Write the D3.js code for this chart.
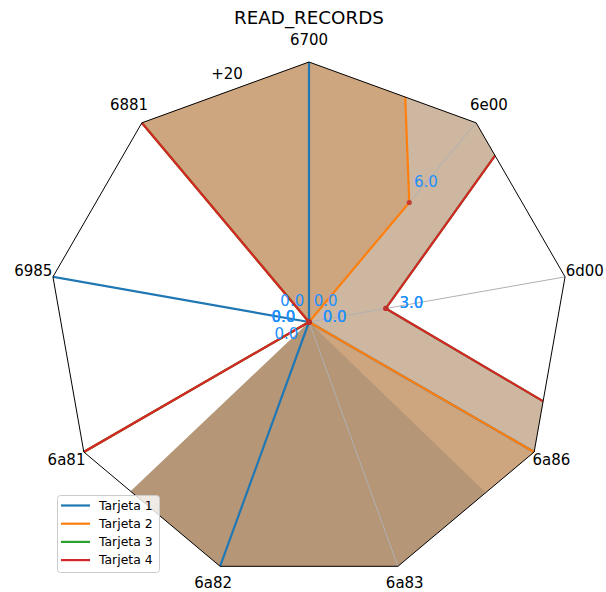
<!DOCTYPE html>
<html>
<head>
<meta charset="utf-8">
<script src="https://cdn.jsdelivr.net/npm/d3@7"></script>
<style>
  html, body { margin: 0; padding: 0; background: #fff; }
  svg { display: block; font-family: "DejaVu Sans", sans-serif; }
</style>
</head>
<body>
<svg id="chart" width="606" height="592"></svg>
<script>
// ---------- data ----------
const axisLabels = ["6700", "6e00", "6d00", "6a86", "6a83", "6a82", "6a81", "6985", "6881"];
const seriesNames = ["Tarjeta 1", "Tarjeta 2", "Tarjeta 3", "Tarjeta 4"];
const seriesColors = ["#1f77b4", "#ff7f0e", "#2ca02c", "#d62728"];
// values per axis (off-scale values run past the frame and are clipped)
const tarjeta1 = [200, 0, 0, 200, 200, 200, 0, 200, 0];
const tarjeta2 = [105, 6, 0, 200, 200, 200, 200, 0, 200];
const tarjeta3 = [200, 27, 3, 200, 200, 200, 200, 0, 200];
const tarjeta4 = [200, 27, 3, 200, 200, 200, 200, 0, 200];
// shaded areas as they appear in the picture: [angle in degrees, value]
const fill1 = [[0, 0], [134, 200], [160, 200], [200, 200], [226.5, 200]];
const fill2 = [[0, 0], [320, 200], [0, 105], [40, 6], [80, 0], [120, 200], [160, 200], [200, 200], [226.5, 200]];
const fill3 = [[0, 0], [320, 200], [0, 200], [40, 27], [80, 3], [120, 200], [160, 200], [200, 200], [226.5, 200]];
const fill4 = [[0, 0], [320, 200], [0, 200], [40, 27], [80, 3], [120, 200], [160, 200], [200, 200], [226.5, 200]];
const radialMax = 10;
const offsetText = "+20";
const title = "READ_RECORDS";

// ---------- layout ----------
const svg = d3.select("#chart");
const cx = 309, cy = 322, R = 260;
const n = axisLabels.length;
const rScale = d3.scaleLinear().domain([0, radialMax]).range([0, R]);
const angleScale = d3.scaleLinear().domain([0, n]).range([0, 2 * Math.PI]);
const toRad = d => d * Math.PI / 180;

const series = [tarjeta1, tarjeta2, tarjeta3, tarjeta4];
const fills = [fill1, fill2, fill3, fill4];

const framePts = axisLabels.map((_, i) => [angleScale(i), R]);
const radialLine = d3.lineRadial().curve(d3.curveLinearClosed);

svg.append("defs").append("clipPath").attr("id", "frameClip")
  .append("path")
  .attr("transform", `translate(${cx},${cy})`)
  .attr("d", radialLine(framePts));

const layer = (clip) => {
  const outer = svg.append("g");
  if (clip) outer.attr("clip-path", "url(#frameClip)");
  return outer.append("g").attr("transform", `translate(${cx},${cy})`);
};
const fillLayer = layer(true);
const spokeLayer = layer(false);
const lineLayer = layer(true);
const topLayer = layer(false);

// fills
fills.forEach((f, si) => {
  const pts = f.map(([a, v]) => [toRad(a), rScale(v)]);
  fillLayer.append("path")
    .attr("d", radialLine(pts))
    .attr("fill", seriesColors[si])
    .attr("fill-opacity", 0.25)
    .attr("stroke", "none");
});

// spokes
axisLabels.forEach((_, i) => {
  const a = angleScale(i);
  spokeLayer.append("line")
    .attr("x1", 0).attr("y1", 0)
    .attr("x2", R * Math.sin(a)).attr("y2", -R * Math.cos(a))
    .attr("stroke", "#b0b0b0").attr("stroke-width", 1);
});

// series lines
series.forEach((vals, si) => {
  const pts = vals.map((v, i) => [angleScale(i), rScale(v)]);
  lineLayer.append("path")
    .attr("d", radialLine(pts))
    .attr("fill", "none")
    .attr("stroke", seriesColors[si])
    .attr("stroke-width", 2.2)
    .attr("stroke-linejoin", "round");
});

// markers at in-range points
series.forEach((vals) => {
  vals.forEach((v, i) => {
    if (v > radialMax) return;
    const a = angleScale(i), r = rScale(v);
    topLayer.append("circle")
      .attr("cx", r * Math.sin(a)).attr("cy", -r * Math.cos(a))
      .attr("r", 2.6)
      .attr("fill", "#c0302c").attr("fill-opacity", 0.85);
  });
});

// frame
topLayer.append("path")
  .attr("d", radialLine(framePts))
  .attr("fill", "none")
  .attr("stroke", "#000").attr("stroke-width", 1);

// value labels
series.forEach((vals) => {
  vals.forEach((v, i) => {
    if (v > radialMax) return;
    const a = angleScale(i), r = rScale(v + 1);
    topLayer.append("text")
      .attr("x", r * Math.sin(a)).attr("y", -r * Math.cos(a) + 4)
      .attr("text-anchor", "middle")
      .attr("font-size", "15px")
      .attr("fill", "#1e90ff")
      .text(v.toFixed(1));
  });
});

// axis labels
axisLabels.forEach((lab, i) => {
  const a = angleScale(i);
  const x = (R + 20) * Math.sin(a);
  const y = -(R + 20) * Math.cos(a) - 3 + 5.5;
  topLayer.append("text")
    .attr("x", x).attr("y", y)
    .attr("text-anchor", "middle")
    .attr("font-size", "15px")
    .attr("fill", "#000")
    .text(lab);
});

// offset text
svg.append("text")
  .attr("x", 227).attr("y", 79)
  .attr("text-anchor", "middle")
  .attr("font-size", "15px")
  .text(offsetText);

// title
svg.append("text")
  .attr("x", 309).attr("y", 24)
  .attr("text-anchor", "middle")
  .attr("font-size", "18.3px")
  .text(title);

// legend
const lg = svg.append("g");
lg.append("rect")
  .attr("x", 57.5).attr("y", 495.5)
  .attr("width", 102).attr("height", 77)
  .attr("rx", 3)
  .attr("fill", "#fff").attr("fill-opacity", 0.8)
  .attr("stroke", "#cccccc").attr("stroke-width", 1);
seriesNames.forEach((name, i) => {
  const y = 505.5 + i * 18.2;
  lg.append("line")
    .attr("x1", 61).attr("x2", 90)
    .attr("y1", y).attr("y2", y)
    .attr("stroke", seriesColors[i]).attr("stroke-width", 2.2);
  lg.append("text")
    .attr("x", 99).attr("y", y + 4.3)
    .attr("font-size", "12.4px")
    .attr("fill", "#000")
    .text(name);
});
</script>
</body>
</html>
